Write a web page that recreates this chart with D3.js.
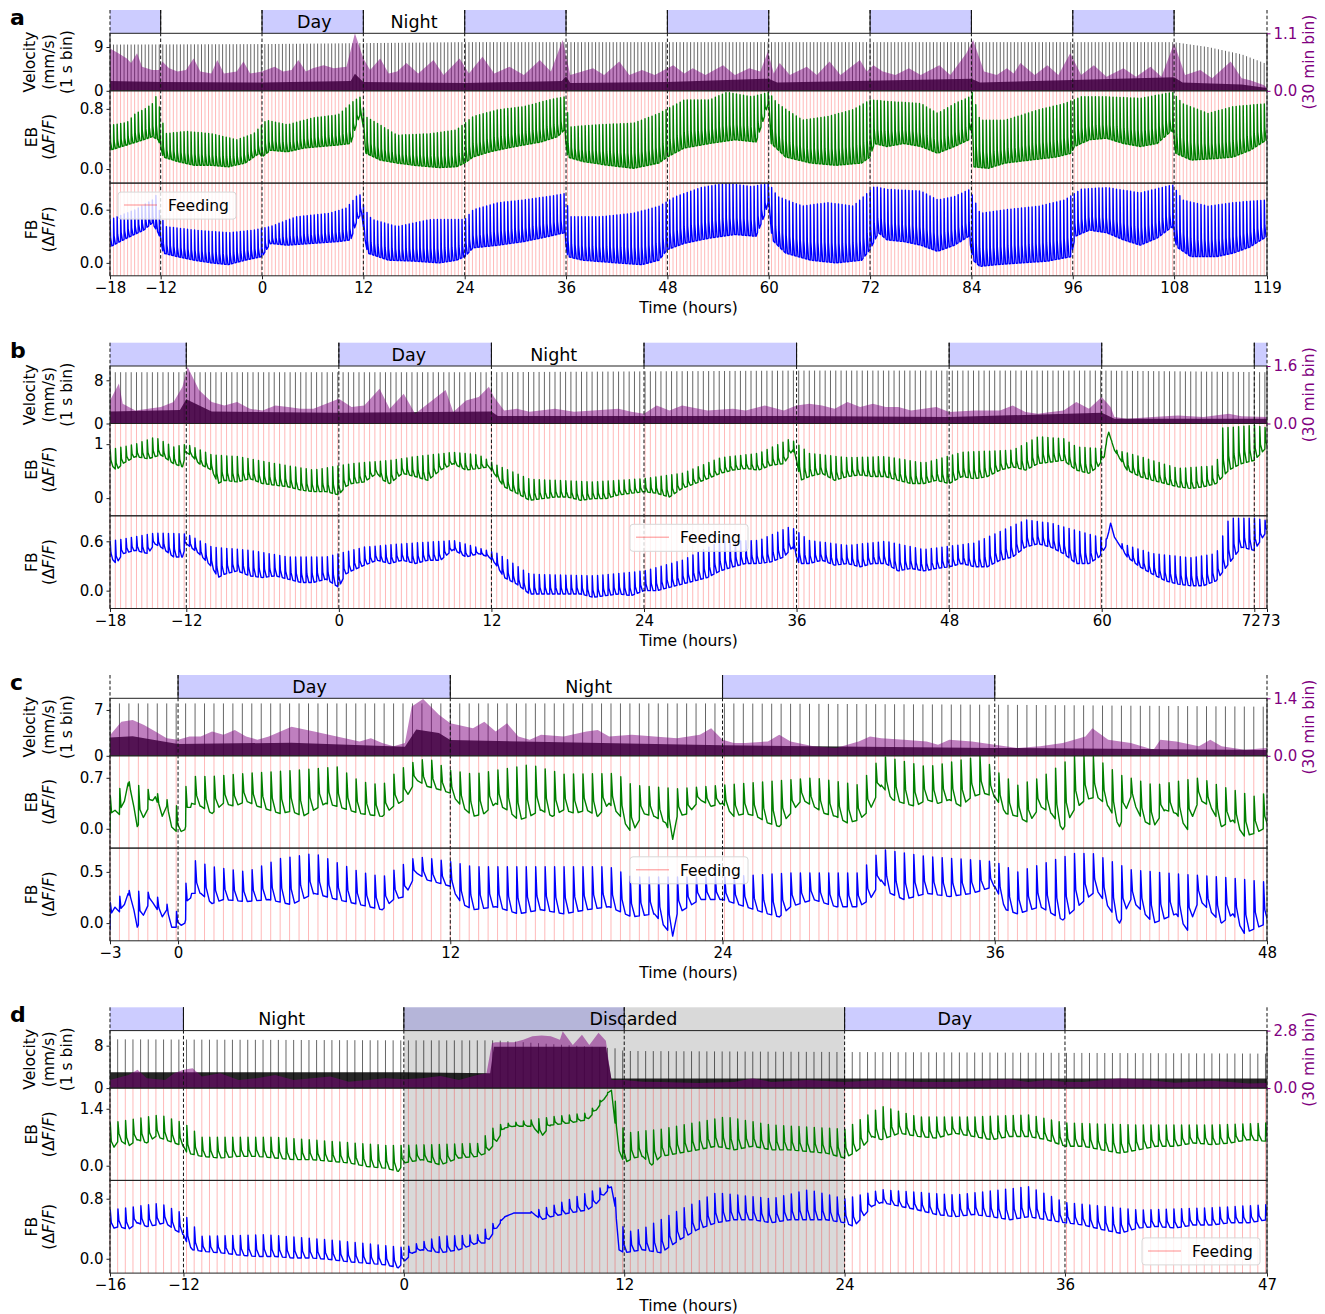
<!DOCTYPE html>
<html><head><meta charset="utf-8">
<script src="https://cdn.jsdelivr.net/npm/d3@7"></script>
<style>
body{margin:0;background:#fff}
svg{display:block}
text{font-family:"DejaVu Sans",sans-serif;fill:#000}
</style>
</head><body>
<svg id="chart" width="1325" height="1314"></svg>
<script>
// ---------------- DATA (hours, values) ----------------
const feedIntervalHours = 25/60;

// Panel a
const xTicksA = [-18,-12,0,12,24,36,48,60,72,84,96,108,119];
const dayA = [[-18,-12],[0,12],[24,36],[48,60],[72,84],[96,108]];
const labelsA = [[6.2,"Day"],[18,"Night"]];
const ebBaseA = [[-18,0.25],[-16,0.32],[-14,0.39],[-13,0.43],[-12.3,0.39],[-12,0.3],[-11.7,0.16],[-10,0.1],[-8,0.05],[-6,0.05],[-4,0.03],[-2,0.08],[-0.3,0.21],[0,0.16],[1,0.25],[3,0.23],[5,0.28],[7,0.3],[9,0.32],[10.5,0.34],[11.2,0.6],[11.7,0.75],[12,0.56],[12.3,0.21],[14,0.12],[16,0.08],[18,0.05],[21,0.02],[23,0.03],[24,0.08],[25,0.16],[27,0.23],[30,0.3],[33,0.36],[35,0.43],[35.8,0.52],[36.2,0.16],[38,0.1],[41,0.05],[44,0.01],[47,0.08],[48,0.16],[50,0.28],[53,0.34],[56,0.39],[58.5,0.36],[59.5,0.7],[60,0.9],[60.3,0.34],[62,0.16],[65,0.08],[68,0.05],[71,0.08],[72,0.16],[72.5,0.34],[74,0.3],[76,0.34],[78,0.3],[80,0.21],[82,0.3],[83.7,0.39],[84,0.6],[84.3,0.03],[86,0.01],[88,0.08],[91,0.12],[94,0.16],[95.8,0.21],[96.2,0.3],[98,0.39],[100,0.41],[102,0.34],[104,0.3],[106,0.34],[107.8,0.52],[108.2,0.21],[110,0.12],[113,0.14],[115,0.16],[117,0.25],[119,0.39]];
const ebTopA = [[-18,0.58],[-16,0.62],[-15,0.74],[-14,0.79],[-13,0.87],[-12.5,0.98],[-12,0.75],[-11.5,0.47],[-9,0.5],[-6,0.47],[-3,0.39],[-1,0.47],[0.5,0.65],[3,0.59],[6,0.68],[9,0.72],[11,0.92],[11.7,0.96],[12.2,0.7],[13,0.65],[16,0.45],[20,0.47],[23,0.52],[25,0.7],[28,0.79],[31,0.83],[34,0.92],[35.8,0.96],[36.5,0.56],[40,0.59],[44,0.61],[47,0.74],[50,0.92],[53,0.92],[55,1.02],[58,0.96],[60,1.02],[61,0.87],[64,0.65],[67,0.7],[70,0.79],[72,0.92],[74,0.9],[78,0.87],[80,0.74],[82,0.87],[83.8,0.96],[84.1,1.02],[85,0.65],[88,0.65],[92,0.79],[95,0.87],[97,0.96],[100,0.96],[104,0.94],[107.8,1.02],[109,0.87],[112,0.74],[115,0.83],[119,0.87]];
const fbBaseA = [[-18,0.18],[-16,0.28],[-14,0.37],[-13,0.45],[-12.3,0.34],[-12,0.26],[-11.7,0.11],[-10,0.07],[-8,0.03],[-6,0.0],[-4,-0.02],[-2,0.03],[0,0.07],[1,0.22],[3,0.2],[6,0.22],[9,0.24],[10.5,0.26],[11.3,0.49],[11.8,0.56],[12.2,0.26],[12.5,0.11],[15,0.03],[18,0.02],[21,0.0],[23,0.03],[24,0.07],[25,0.17],[28,0.2],[31,0.24],[34,0.3],[35.8,0.34],[36.2,0.07],[38,0.03],[42,0.0],[45,-0.02],[47,0.03],[48,0.15],[50,0.22],[53,0.28],[56,0.32],[58.5,0.3],[59.6,0.56],[60,0.71],[60.4,0.26],[62,0.11],[65,0.03],[68,0.0],[71,0.03],[72,0.15],[73,0.34],[74,0.26],[76,0.24],[78,0.2],[80,0.13],[82,0.2],[83.7,0.3],[84.2,0.03],[85,-0.04],[87,-0.02],[90,0.0],[93,0.02],[95.8,0.07],[96.3,0.3],[98,0.37],[100,0.34],[102,0.26],[104,0.2],[106,0.28],[107.8,0.41],[108.3,0.18],[110,0.07],[113,0.07],[115,0.11],[117,0.18],[119,0.3]];
const fbTopA = [[-18,0.49],[-15,0.6],[-13,0.71],[-12.8,0.85],[-12.2,0.6],[-11.5,0.41],[-8,0.37],[-4,0.34],[-1,0.37],[1,0.41],[4,0.52],[8,0.56],[10,0.62],[11.5,0.79],[12.2,0.6],[13,0.49],[16,0.41],[20,0.49],[24,0.49],[25,0.6],[28,0.68],[31,0.71],[34,0.75],[35.8,0.78],[36.5,0.52],[40,0.52],[44,0.56],[47,0.64],[49,0.75],[52,0.85],[55,0.9],[58,0.86],[60,0.9],[61,0.75],[64,0.64],[67,0.68],[70,0.64],[72.5,0.86],[74,0.83],[78,0.81],[80,0.71],[82,0.75],[83.8,0.83],[85,0.56],[88,0.6],[92,0.64],[95,0.71],[97,0.83],[100,0.85],[104,0.79],[107.8,0.88],[109,0.71],[112,0.64],[115,0.68],[119,0.71]];
const velAvgA = [[-18,0.81],[-17,0.72],[-16,0.62],[-15.5,0.53],[-14.8,0.72],[-14.2,0.46],[-13,0.4],[-12.2,0.4],[-11.8,0.56],[-11,0.43],[-10,0.37],[-9,0.4],[-8.1,0.62],[-7.3,0.37],[-6,0.33],[-5.3,0.59],[-4.5,0.33],[-3,0.37],[-2.2,0.56],[-1.4,0.33],[0,0.37],[1.5,0.46],[2.5,0.37],[3.5,0.4],[4.3,0.59],[5.2,0.37],[6,0.43],[7.3,0.49],[8.5,0.43],[10,0.46],[11,1.1],[12,0.62],[12.8,0.4],[14,0.62],[15,0.33],[16,0.37],[17.1,0.53],[18.5,0.33],[20.3,0.59],[21.5,0.3],[23.4,0.62],[24.5,0.33],[26.1,0.65],[27.5,0.33],[29.3,0.46],[31,0.3],[32.9,0.59],[34.2,0.37],[35.6,0.97],[36.5,0.3],[39.2,0.43],[40.5,0.3],[42.3,0.56],[43.5,0.3],[45,0.4],[46.5,0.3],[48.7,0.49],[50,0.33],[51,0.43],[52.5,0.3],[54.6,0.49],[56,0.3],[57.7,0.43],[59,0.37],[59.9,0.75],[60.6,0.33],[61.3,0.53],[62.5,0.3],[64.5,0.46],[65.7,0.3],[67.2,0.56],[68.5,0.3],[70.8,0.59],[71.6,0.37],[72.4,0.49],[73.5,0.37],[75,0.3],[76.6,0.43],[78,0.3],[80.2,0.49],[81.5,0.3],[83.4,0.72],[84.2,0.97],[85.5,0.37],[87,0.3],[88.2,0.43],[89,0.33],[89.8,0.53],[91.5,0.3],[93,0.49],[94.3,0.3],[95.7,0.72],[97,0.3],[98.5,0.49],[100,0.27],[102,0.43],[103.5,0.27],[105.2,0.46],[106.5,0.27],[108,0.91],[109.3,0.3],[111.1,0.4],[112.5,0.24],[114.7,0.56],[116,0.24],[117,0.2],[118.6,0.11],[119,0.06]];
const velDenseA = [[-18,2.0],[-12,1.8],[0,1.7],[10.5,2.0],[11,3.5],[12,1.8],[24,1.6],[35.5,2.0],[36,3.0],[36.5,1.6],[48,1.8],[60,2.5],[61,1.7],[84,2.5],[85,1.7],[108,2.8],[109,1.7],[116,1.3],[119,0.6]];
const velPeakA = [[-18,9.5],[0,9.6],[24,10.0],[48,10.0],[72,10.0],[96,10.0],[108,10.0],[112,9.0],[116,7.5],[119,5.5]];

// Panel b
const xTicksB = [-18,-12,0,12,24,36,48,60,72,73];
const dayB = [[-18,-12],[0,12],[24,36],[48,60],[72,73]];
const labelsB = [[5.5,"Day"],[16.9,"Night"]];
const ebBaseB = [[-18,0.64],[-17.5,0.52],[-17,0.64],[-16,0.77],[-15,0.73],[-14,0.8],[-13,0.64],[-12.3,0.58],[-12,0.85],[-11.5,0.77],[-11,0.64],[-10,0.52],[-9.5,0.27],[-9,0.33],[-8,0.3],[-7,0.36],[-6,0.27],[-5,0.24],[-4,0.21],[-3,0.15],[-2,0.12],[-1,0.12],[0,0.06],[0.5,0.21],[1,0.27],[2,0.3],[3,0.46],[3.5,0.33],[4,0.27],[5,0.46],[6,0.4],[7,0.33],[8,0.52],[9,0.64],[10,0.52],[11,0.55],[11.8,0.58],[12.2,0.46],[13,0.21],[14,0.09],[15,-0.04],[16,-0.01],[17,0.02],[18,0.02],[19,-0.04],[20,-0.01],[21,-0.01],[22,0.06],[23,0.09],[24,0.12],[25,0.09],[26,0.02],[27,0.18],[28,0.27],[29,0.36],[30,0.46],[31,0.52],[32,0.55],[33,0.52],[34,0.61],[35,0.64],[35.7,0.89],[36,0.7],[36.3,0.33],[37,0.4],[38,0.46],[39,0.33],[40,0.4],[41,0.43],[42,0.4],[43,0.4],[44,0.33],[45,0.27],[46,0.27],[47,0.33],[48,0.27],[49,0.4],[50,0.36],[51,0.4],[52,0.52],[53,0.58],[54,0.52],[55,0.64],[56,0.67],[57,0.7],[58,0.52],[59,0.46],[59.7,0.58],[60.2,0.77],[60.5,1.26],[61,0.89],[62,0.52],[63,0.4],[64,0.33],[65,0.27],[66,0.21],[67,0.18],[68,0.21],[69,0.27],[70,0.52],[71,0.64],[72,0.7],[73,0.95]];
const ebTopB = [[-18,0.9],[-16,1.0],[-14.5,1.13],[-13,0.95],[-12,1.0],[-10,0.8],[-8,0.77],[-5,0.64],[-2,0.52],[1,0.64],[4,0.7],[6,0.77],[9,0.85],[11,0.8],[12.5,0.6],[15,0.35],[20,0.3],[24,0.36],[27,0.46],[30,0.75],[33,0.83],[35.5,1.1],[37,0.83],[40,0.75],[43,0.77],[46,0.65],[49,0.85],[53,0.89],[55,1.14],[57,1.1],[58,0.95],[61,0.9],[63,0.77],[66,0.55],[69,0.6],[69.5,1.3],[72,1.35],[73,1.3]];
const fbBaseB = [[-18,0.41],[-17.5,0.33],[-17,0.45],[-16,0.49],[-15,0.45],[-14.5,0.57],[-14,0.53],[-13,0.41],[-12.3,0.41],[-12,0.57],[-11,0.45],[-10,0.29],[-9.5,0.16],[-9,0.2],[-8,0.24],[-7,0.18],[-6,0.16],[-5,0.18],[-4,0.14],[-3,0.1],[-2,0.1],[-1,0.14],[0,0.04],[0.5,0.2],[1,0.24],[2,0.31],[3,0.37],[4,0.33],[5,0.37],[6,0.33],[7,0.37],[8,0.37],[9,0.5],[10,0.41],[11,0.45],[11.8,0.41],[12.3,0.33],[13,0.16],[14,0.08],[15,-0.04],[17,-0.04],[19,-0.04],[20,-0.08],[21,-0.06],[22,-0.04],[23,-0.06],[24,0.0],[25,0.0],[26,0.04],[27,0.08],[28,0.12],[29,0.16],[30,0.24],[31,0.29],[32,0.33],[33,0.33],[34,0.35],[35,0.41],[35.7,0.53],[36.2,0.33],[37,0.33],[38,0.37],[39,0.31],[40,0.33],[41,0.29],[42,0.33],[43,0.33],[44,0.24],[45,0.27],[46,0.24],[47,0.27],[48,0.29],[49,0.33],[50,0.29],[51,0.29],[52,0.37],[53,0.41],[54,0.53],[55,0.57],[56,0.53],[57,0.45],[58,0.33],[59,0.33],[59.8,0.41],[60.3,0.53],[60.7,0.82],[61,0.65],[62,0.41],[63,0.29],[64,0.2],[65,0.12],[66,0.08],[67,0.06],[68,0.06],[69,0.12],[70,0.33],[71,0.53],[72,0.49],[73,0.73]];
const fbTopB = [[-18,0.6],[-14.5,0.7],[-12,0.69],[-10,0.53],[-7,0.49],[-4,0.41],[-1,0.41],[2,0.53],[5,0.57],[9,0.61],[12.5,0.45],[15,0.2],[20,0.18],[24,0.24],[27,0.37],[30,0.6],[33,0.61],[35.5,0.78],[37,0.61],[40,0.55],[43,0.6],[46,0.5],[50,0.58],[54,0.86],[56,0.82],[58,0.73],[61,0.6],[64,0.45],[67,0.4],[69,0.45],[70,0.88],[72,0.88],[73,0.85]];
const velAvgB = [[-18,0.64],[-17.3,1.11],[-17,0.55],[-16,0.36],[-15,0.41],[-14,0.46],[-13,0.6],[-12.3,1.02],[-11.9,1.58],[-11,0.93],[-10,0.6],[-9,0.5],[-8,0.6],[-7,0.41],[-6,0.36],[-5,0.5],[-4,0.46],[-3,0.41],[-2,0.41],[-1,0.55],[0,0.69],[1,0.46],[2,0.5],[3.2,0.97],[4,0.41],[5.1,0.83],[6,0.27],[7,0.55],[8.4,0.93],[9,0.32],[10,0.64],[11,0.74],[11.8,1.02],[12.2,0.74],[13,0.36],[14,0.41],[15,0.33],[17,0.41],[18.5,0.33],[20,0.36],[22,0.41],[23,0.33],[24,0.27],[25,0.5],[26,0.36],[27,0.5],[29,0.36],[31,0.41],[32,0.36],[33.5,0.5],[35,0.36],[36,0.5],[37,0.55],[38,0.5],[39,0.41],[40,0.6],[41,0.46],[42,0.55],[43,0.46],[44,0.46],[45,0.36],[46,0.41],[47,0.46],[48,0.32],[50,0.36],[52,0.36],[53,0.5],[54,0.32],[55,0.27],[56,0.32],[57,0.36],[58,0.6],[59,0.41],[60,0.74],[60.7,0.46],[61,0.18],[62,0.13],[64,0.18],[66,0.22],[68,0.18],[70,0.27],[71,0.2],[73,0.18]];
const velDenseB = [[-18,2.2],[-12.5,2.5],[-12,4.5],[-10,2.2],[0,2.0],[12,2.2],[12.5,1.4],[36,1.4],[48,1.2],[60,2.0],[61,0.9],[73,0.9]];
const velPeakB = [[-18,9.5],[12,9.5],[36,9.8],[60,9.8],[73,9.5]];

// Panel c
const xTicksC = [-3,0,12,24,36,48];
const dayC = [[0,12],[24,36]];
const labelsC = [[5.8,"Day"],[18.1,"Night"]];
const ebBaseC = [[-3,-0.06],[-2.8,0.26],[-2.5,0.17],[-2.2,0.63],[-2,0.4],[-1.8,0.03],[-1.5,0.17],[-1.2,0.35],[-1,0.44],[-0.7,0.17],[-0.5,0.31],[-0.3,0.03],[0,-0.06],[0.3,-0.01],[0.6,0.35],[1,0.31],[1.5,0.21],[2,0.35],[2.5,0.31],[3,0.38],[3.5,0.31],[4,0.26],[4.5,0.21],[5,0.24],[5.5,0.17],[6,0.26],[6.5,0.35],[7,0.31],[7.5,0.26],[8,0.21],[8.5,0.19],[9,0.17],[9.5,0.31],[10,0.4],[10.5,0.67],[11,0.58],[11.5,0.54],[12,0.49],[12.5,0.31],[13,0.17],[13.5,0.21],[14,0.35],[14.5,0.26],[15,0.12],[15.5,0.17],[16,0.26],[16.5,0.17],[17,0.26],[17.5,0.21],[18,0.26],[18.5,0.17],[19,0.35],[19.5,0.17],[20,-0.06],[20.5,0.21],[21,0.17],[21.5,0.08],[21.8,-0.15],[22,0.17],[22.5,0.21],[23,0.4],[23.5,0.31],[24,0.35],[24.5,0.17],[25,0.21],[25.5,0.17],[26,0.08],[26.5,0.03],[27,0.21],[27.5,0.4],[28,0.31],[28.5,0.21],[29,0.17],[29.5,0.08],[30,0.12],[30.5,0.26],[31,0.6],[31.5,0.4],[32,0.35],[32.5,0.31],[33,0.4],[33.5,0.35],[34,0.4],[34.5,0.31],[35,0.44],[35.5,0.49],[36,0.44],[36.5,0.21],[37,0.17],[37.5,0.08],[38,0.31],[38.5,0.21],[39,-0.01],[39.5,0.26],[40,0.4],[40.5,0.44],[41,0.31],[41.5,0.03],[42,0.44],[42.5,0.12],[43,0.03],[43.5,0.26],[44,0.21],[44.5,-0.01],[45,0.4],[45.5,0.31],[46,0.03],[46.5,0.12],[47,-0.1],[47.5,-0.06],[48,0.03]];
const ebTopC = [[-3,0.45],[-2.2,0.65],[-1,0.5],[0,0.3],[0.5,0.72],[1.5,0.72],[3,0.76],[5,0.8],[7,0.85],[8,0.65],[9,0.6],[9.5,0.75],[10.2,0.9],[11,0.97],[12,0.8],[13,0.75],[15.5,0.88],[17,0.75],[19.3,0.76],[20,0.6],[22,0.55],[24,0.6],[26,0.65],[28,0.7],[30,0.6],[31,1.0],[33,0.85],[35.4,1.0],[36,0.8],[37,0.6],[38,0.7],[39.5,1.0],[40.3,1.0],[41.5,0.74],[43,0.6],[44,0.65],[45,0.7],[46,0.58],[47.5,0.44],[48,0.5]];
const fbBaseC = [[-3,-0.07],[-2.8,0.16],[-2.5,0.09],[-2.2,0.29],[-2,0.19],[-1.8,-0.04],[-1.5,0.09],[-1.2,0.23],[-1,0.16],[-0.7,0.06],[-0.5,0.13],[-0.3,-0.04],[0,-0.04],[0.3,0.0],[0.6,0.29],[1,0.29],[1.5,0.19],[2,0.23],[3,0.21],[4,0.23],[5,0.18],[6,0.29],[7,0.23],[8,0.18],[9,0.13],[9.5,0.23],[10,0.26],[10.5,0.49],[11,0.42],[11.5,0.39],[12,0.36],[12.5,0.19],[13,0.13],[14,0.16],[15,0.09],[16,0.13],[17,0.09],[18,0.13],[19,0.16],[20,0.06],[21,0.09],[21.8,-0.13],[22,0.09],[23,0.23],[24,0.23],[25,0.16],[26,0.09],[26.5,0.06],[27,0.16],[28,0.23],[29,0.16],[30,0.16],[30.5,0.23],[31,0.42],[31.4,0.29],[32,0.23],[33,0.29],[34,0.26],[35,0.29],[36,0.36],[36.5,0.13],[37,0.09],[38,0.16],[39,0.03],[40,0.23],[40.5,0.32],[41,0.16],[41.5,0.0],[42,0.23],[43,0.0],[44,0.09],[44.5,-0.07],[45,0.23],[46,0.0],[46.5,0.09],[47,-0.1],[48,0.0]];
const fbTopC = [[-3,0.2],[-2.2,0.32],[-1.2,0.3],[0,0.1],[0.6,0.62],[1.5,0.55],[3,0.5],[4.5,0.63],[6,0.68],[8,0.5],[9,0.45],[10.5,0.65],[12,0.6],[13,0.55],[16,0.55],[19,0.55],[20,0.45],[24,0.45],[27,0.49],[30,0.49],[31,0.72],[33,0.65],[36,0.6],[37,0.5],[39.5,0.68],[40.3,0.68],[42,0.52],[44,0.48],[46,0.45],[48,0.4]];
const velAvgC = [[-3,0.5],[-2.5,0.83],[-2,0.87],[-1.5,0.75],[-1,0.59],[-0.5,0.43],[0,0.39],[0.5,0.47],[1,0.47],[1.5,0.59],[2,0.51],[2.5,0.63],[3,0.47],[3.5,0.39],[4,0.47],[5,0.71],[6,0.59],[7,0.47],[8,0.35],[8.5,0.43],[9,0.31],[9.5,0.23],[10,0.31],[10.3,1.2],[10.8,1.38],[11.5,1.0],[12,0.79],[13,0.67],[13.5,0.83],[14,0.59],[14.5,0.79],[15,0.47],[15.5,0.39],[16,0.51],[17,0.47],[18,0.59],[18.5,0.63],[19,0.47],[20,0.51],[21,0.47],[22,0.43],[23,0.51],[23.5,0.67],[24,0.39],[24.5,0.31],[25,0.31],[26,0.35],[26.5,0.51],[27,0.35],[28,0.23],[29,0.19],[30,0.35],[30.5,0.47],[31,0.43],[32,0.39],[33,0.35],[33.5,0.27],[34,0.39],[35,0.35],[36,0.27],[37,0.19],[38,0.23],[39,0.31],[40,0.47],[40.3,0.67],[41,0.39],[42,0.31],[43,0.15],[43.3,0.39],[44,0.35],[45,0.23],[45.5,0.39],[46,0.23],[47,0.15],[48,0.19]];
const velDenseC = [[-3,2.8],[-2,3.0],[0,1.8],[5,2.0],[10,1.4],[10.5,4.0],[11.5,3.5],[12,2.4],[24,1.6],[36,1.2],[48,0.9]];
const velPeakC = [[-3,8.0],[12,8.0],[24,8.0],[36,7.8],[48,7.5]];

// Panel d
const xTicksD = [-16,-12,0,12,24,36,47];
const dayD = [[-16,-12],[0,12],[24,36]];
const labelsD = [[-6.65,"Night"],[12.5,"Discarded"],[30,"Day"]];
const discardedD = [0,24];
const ebBaseD = [[-16,0.31],[-15.5,0.64],[-15,0.48],[-14.5,0.64],[-14,0.56],[-13.5,0.72],[-13,0.64],[-12.5,0.56],[-12,0.48],[-11.8,0.31],[-11,0.23],[-10,0.19],[-9,0.23],[-8,0.23],[-7,0.19],[-6,0.15],[-5,0.15],[-4,0.11],[-3,0.07],[-2,-0.02],[-1,-0.06],[-0.3,-0.14],[0,0.07],[1,0.15],[2,0.02],[3,0.19],[4,0.23],[4.5,0.31],[5,0.56],[5.5,0.93],[6,0.97],[7,0.97],[7.5,0.72],[8,1.0],[9,1.05],[10,1.13],[10.5,1.38],[11,1.7],[11.3,1.87],[11.5,1.05],[11.7,0.39],[12,0.07],[12.5,0.19],[13,0.23],[13.5,0.02],[14,0.23],[15,0.31],[16,0.39],[17,0.48],[18,0.39],[19,0.48],[20,0.39],[21,0.39],[22,0.35],[23,0.31],[24,0.19],[24.5,0.31],[25,0.48],[25.5,0.72],[26,0.64],[27,0.8],[28,0.72],[29,0.68],[30,0.8],[31,0.72],[32,0.64],[33,0.72],[34,0.72],[35,0.64],[36,0.48],[37,0.48],[38,0.39],[39,0.31],[40,0.39],[41,0.48],[42,0.48],[43,0.56],[44,0.52],[45,0.56],[46,0.64],[47,0.6]];
const ebTopD = [[-16,1.05],[-13.3,1.25],[-12,1.05],[-11,0.7],[-7,0.7],[-4,0.6],[-1,0.5],[0,0.5],[4,0.55],[5,1.0],[8,1.2],[10,1.3],[11.3,1.9],[12,0.8],[14,0.9],[17.5,1.2],[20,1.0],[24,0.9],[26,1.46],[28,1.2],[31,1.2],[34,1.25],[36,1.05],[40,1.0],[44,1.0],[47,1.05]];
const fbBaseD = [[-16,0.39],[-15.5,0.43],[-15,0.39],[-14.5,0.48],[-14,0.43],[-13.5,0.45],[-13,0.48],[-12.5,0.39],[-12,0.32],[-11.8,0.21],[-11.5,0.12],[-11,0.1],[-10,0.08],[-9,0.05],[-8,0.03],[-7,0.03],[-6,0.01],[-5,0.01],[-4,-0.01],[-3,-0.04],[-2,-0.06],[-1,-0.08],[-0.3,-0.12],[0,-0.04],[0.5,0.08],[1,0.12],[2,0.08],[3,0.12],[4,0.21],[4.5,0.21],[5,0.39],[5.5,0.56],[6,0.61],[7,0.61],[7.5,0.52],[8,0.56],[9,0.61],[10,0.65],[10.5,0.74],[11,0.88],[11.3,0.96],[11.5,0.7],[11.7,0.12],[12,0.08],[13,0.12],[14,0.08],[15,0.25],[16,0.39],[17,0.48],[18,0.52],[19,0.52],[20,0.48],[21,0.52],[22,0.52],[23,0.52],[24,0.48],[24.5,0.43],[25,0.56],[25.5,0.7],[26,0.75],[27,0.7],[28,0.65],[29,0.59],[30,0.56],[31,0.59],[32,0.56],[33,0.52],[34,0.56],[35,0.52],[36,0.48],[37,0.45],[38,0.39],[39,0.34],[40,0.41],[41,0.43],[42,0.41],[43,0.45],[44,0.45],[45,0.48],[46,0.48],[47,0.52]];
const fbTopD = [[-16,0.65],[-13.3,0.74],[-12,0.6],[-11,0.3],[-7.5,0.32],[-4,0.25],[0,0.15],[2,0.3],[4,0.32],[5,0.5],[8,0.7],[11.3,1.0],[12,0.35],[13,0.4],[15,0.65],[17,0.88],[20,0.8],[22,0.92],[24,0.8],[26,0.92],[30,0.85],[34,0.96],[36,0.75],[40,0.65],[44,0.68],[47,0.72]];
const velAvgD = [[-16,0.39],[-15,0.64],[-14.5,0.89],[-14,0.48],[-13,0.39],[-12.5,0.72],[-12,0.89],[-11.5,0.97],[-11,0.56],[-10,0.72],[-9,0.39],[-8,0.48],[-7,0.64],[-6,0.39],[-5,0.48],[-4,0.56],[-3,0.31],[-2,0.39],[-1,0.48],[0,0.43],[1,0.48],[2,0.59],[3,0.39],[4,0.64],[4.5,0.72],[4.8,2.2],[5,2.23],[6,2.23],[6.5,2.36],[7,2.52],[7.5,2.56],[8,2.52],[8.5,2.36],[8.65,2.77],[9.2,2.1],[9.7,2.6],[10.1,2.1],[10.6,2.7],[11,2.3],[11.3,0.39],[12,0.39],[13,0.31],[14,0.3],[16,0.25],[18,0.3],[19,0.48],[20,0.3],[22,0.39],[24,0.3],[26,0.39],[28,0.3],[30,0.3],[33,0.43],[34,0.3],[35,0.39],[36,0.3],[37,0.3],[39,0.48],[40,0.43],[42,0.26],[44,0.36],[45,0.3],[46,0.23],[47,0.25]];
const velDenseD = [[-16,3.0],[0,3.0],[4.7,2.8],[4.9,7.8],[11,7.8],[11.3,1.8],[24,1.8],[47,1.8]];
const velPeakD = [[-16,9.2],[0,9.0],[5,9.0],[11.5,7.5],[12,7.0],[24,6.8],[47,6.5]];

// ---------------- LAYOUT / STYLE ----------------
const X0 = 110, X1 = 1267;
const STRIP_H = 23.3, VEL_H = 57.5, EB_H = 92.3, FB_H = 92.7;
const panels = [
  {letter:"a", top:10, xDomain:[-18,119], xTicks:xTicksA, day:dayA, labels:labelsA,
   velDomain:[0,11.82], rightDomain:[0,1.1], ebDomain:[-0.187,1.04], fbDomain:[-0.146,0.9],
   velTicks:[0,9], rightTicks:[0,1.1], ebTicks:[0,0.8], fbTicks:[0,0.6], ebFmt:".1f",
   ebBase:ebBaseA, ebTop:ebTopA, fbBase:fbBaseA, fbTop:fbTopA, velAvg:velAvgA, velDense:velDenseA, velPeak:velPeakA,
   legend:{x:118, dy:9}},
  {letter:"b", top:342.7, xDomain:[-18,73], xTicks:xTicksB, day:dayB, labels:labelsB,
   velDomain:[0,10.65], rightDomain:[0,1.6], ebDomain:[-0.328,1.383], fbDomain:[-0.217,0.91],
   velTicks:[0,8], rightTicks:[0,1.6], ebTicks:[0,1], fbTicks:[0,0.6], ebFmt:"d",
   ebBase:ebBaseB, ebTop:ebTopB, fbBase:fbBaseB, fbTop:fbTopB, velAvg:velAvgB, velDense:velDenseB, velPeak:velPeakB,
   legend:{x:630, dy:8.5}, tickNudge:{72:-3.5, 73:3.5}},
  {letter:"c", top:675, xDomain:[-3,48], xTicks:xTicksC, day:dayC, labels:labelsC,
   velDomain:[0,8.78], rightDomain:[0,1.4], ebDomain:[-0.265,1.002], fbDomain:[-0.173,0.732],
   velTicks:[0,7], rightTicks:[0,1.4], ebTicks:[0,0.7], fbTicks:[0,0.5], ebFmt:".1f",
   ebBase:ebBaseC, ebTop:ebTopC, fbBase:fbBaseC, fbTop:fbTopC, velAvg:velAvgC, velDense:velDenseC, velPeak:velPeakC,
   legend:{x:630, dy:8.7}},
  {letter:"d", top:1007.3, xDomain:[-16,47], xTicks:xTicksD, day:dayD, labels:labelsD, discarded:discardedD,
   velDomain:[0,10.84], rightDomain:[0,2.8], ebDomain:[-0.361,1.908], fbDomain:[-0.191,1.044],
   velTicks:[0,8], rightTicks:[0,2.8], ebTicks:[0,1.4], fbTicks:[0,0.8], ebFmt:".1f",
   ebBase:ebBaseD, ebTop:ebTopD, fbBase:fbBaseD, fbTop:fbTopD, velAvg:velAvgD, velDense:velDenseD, velPeak:velPeakD,
   legend:{x:1142, dy:57.5}}
];

const svg = d3.select("#chart");
const defs = svg.append("defs");
const bis = d3.bisector(d => d[0]).right;
function interp(kf, t){
  if (t <= kf[0][0]) return kf[0][1];
  if (t >= kf[kf.length-1][0]) return kf[kf.length-1][1];
  const i = bis(kf, t), a = kf[i-1], b = kf[i];
  return a[1] + (b[1]-a[1])*(t-a[0])/(b[0]-a[0]);
}
// trace: baseline keyframes with a transient at each feeding
function tracePoints(baseKF, topKF, feeds){
  const R = 0.015, D1 = 0.07, D2 = 0.22;
  const pts = [];
  feeds.forEach(t => {
    const b = interp(baseKF, t), tp = Math.max(interp(topKF, t), b);
    pts.push([t, b], [t+R, tp], [t+D1, interp(baseKF, t+D1) + (tp-b)*0.33], [t+D2, interp(baseKF, t+D2)]);
  });
  baseKF.forEach(p => { if (!feeds.some(f => p[0] >= f && p[0] <= f + D2)) pts.push(p); });
  pts.sort((a,b) => a[0]-b[0]);
  return pts;
}
const minus = s => String(s).replace("-", "\u2212");

panels.forEach((p, pi) => {
  const sTop = p.top, vTop = sTop + STRIP_H, vBot = vTop + VEL_H, eBot = vBot + EB_H, fBot = eBot + FB_H;
  const x = d3.scaleLinear().domain(p.xDomain).range([X0, X1]);
  const yV = d3.scaleLinear().domain(p.velDomain).range([vBot, vTop]);
  const yR = d3.scaleLinear().domain(p.rightDomain).range([vBot, vTop]);
  const yE = d3.scaleLinear().domain(p.ebDomain).range([eBot, vBot]);
  const yF = d3.scaleLinear().domain(p.fbDomain).range([fBot, eBot]);
  const feeds = d3.range(p.xDomain[0], p.xDomain[1], feedIntervalHours);
  const g = svg.append("g");

  const clip = (id, y0, y1) => {
    defs.append("clipPath").attr("id", id).append("rect").attr("x", X0).attr("y", y0).attr("width", X1-X0).attr("height", y1-y0);
    return "url(#" + id + ")";
  };
  const cV = clip("cv"+pi, vTop, vBot), cE = clip("ce"+pi, vBot, eBot), cF = clip("cf"+pi, eBot, fBot);

  // day strip
  g.append("g").selectAll("rect").data(p.day).join("rect")
    .attr("x", d => x(d[0])).attr("width", d => x(d[1]) - x(d[0]))
    .attr("y", sTop).attr("height", STRIP_H)
    .attr("fill", "rgb(0,0,255)").attr("fill-opacity", 0.2);

  // discarded span
  if (p.discarded) {
    g.append("rect").attr("x", x(p.discarded[0])).attr("width", x(p.discarded[1]) - x(p.discarded[0]))
      .attr("y", sTop).attr("height", fBot - sTop).attr("fill", "#808080").attr("fill-opacity", 0.3);
  }

  // feeding lines
  [[vBot, eBot],[eBot, fBot]].forEach(([a, b]) => {
    g.append("path")
      .attr("d", feeds.map(t => `M${x(t)},${a}V${b}`).join(""))
      .attr("stroke", "red").attr("stroke-opacity", 0.28).attr("stroke-width", 1).attr("fill", "none");
  });

  // EB and FB traces
  const lineE = d3.line().x(d => x(d[0])).y(d => yE(d[1]));
  const lineF = d3.line().x(d => x(d[0])).y(d => yF(d[1]));
  g.append("path").attr("clip-path", cE).attr("d", lineE(tracePoints(p.ebBase, p.ebTop, feeds)))
    .attr("fill", "none").attr("stroke", "green").attr("stroke-width", 1.4).attr("stroke-linejoin", "round");
  g.append("path").attr("clip-path", cF).attr("d", lineF(tracePoints(p.fbBase, p.fbTop, feeds)))
    .attr("fill", "none").attr("stroke", "blue").attr("stroke-width", 1.4).attr("stroke-linejoin", "round");

  // velocity: dense 1 s trace, feeding bouts, 30 min average
  const gv = g.append("g").attr("clip-path", cV);
  gv.append("path")
    .attr("d", d3.area().x(d => x(d[0])).y0(vBot).y1(d => yV(d[1]))(p.velDense))
    .attr("fill", "#000").attr("fill-opacity", 0.85);
  gv.append("path")
    .attr("d", feeds.map(t => `M${x(t)},${vBot}V${yV(interp(p.velPeak, t))}`).join(""))
    .attr("stroke", "#000").attr("stroke-opacity", 0.6).attr("stroke-width", 1);
  gv.append("path")
    .attr("d", d3.area().x(d => x(d[0])).y0(vBot).y1(d => yR(d[1]))(p.velAvg))
    .attr("fill", "purple").attr("fill-opacity", 0.5);

  // dashed boundaries
  const bounds = [p.xDomain[0]].concat(d3.range(Math.ceil(p.xDomain[0]/12)*12, p.xDomain[1]+0.001, 12).filter(v => v > p.xDomain[0])).concat(p.xDomain[1] % 12 === 0 ? [] : [p.xDomain[1]]);
  g.append("path").attr("d", bounds.map(t => `M${x(t)},${sTop}V${fBot}`).join(""))
    .attr("stroke", "#111").attr("stroke-width", 1).attr("stroke-dasharray", "3.5,2.2").attr("fill", "none");
  const inner = bounds.filter(t => t > p.xDomain[0] && t < p.xDomain[1]);
  g.append("path").attr("d", inner.map(t => `M${x(t)},${sTop}V${vTop}`).join(""))
    .attr("stroke", "#111").attr("stroke-width", 1.1).attr("fill", "none");

  // spines
  [[vTop, vBot],[vBot, eBot],[eBot, fBot]].forEach(([a, b]) => {
    g.append("rect").attr("x", X0).attr("y", a).attr("width", X1-X0).attr("height", b-a)
      .attr("fill", "none").attr("stroke", "#222").attr("stroke-width", 1);
  });

  // axes
  const styleAx = (sel, color) => {
    sel.select(".domain").remove();
    sel.selectAll("text").attr("font-size", 15).attr("font-family", "DejaVu Sans, sans-serif").style("fill", color || "#000");
    sel.selectAll("line").attr("stroke", color || "#222");
  };
  const axL = (scale, vals, fmt) => {
    const a = g.append("g").attr("transform", `translate(${X0},0)`)
      .call(d3.axisLeft(scale).tickValues(vals).tickFormat(d3.format(fmt)).tickSize(3.5).tickPadding(3));
    styleAx(a);
  };
  axL(yV, p.velTicks, "d");
  axL(yE, p.ebTicks, p.ebFmt);
  axL(yF, p.fbTicks, ".1f");
  const ar = g.append("g").attr("transform", `translate(${X1},0)`)
    .call(d3.axisRight(yR).tickValues(p.rightTicks).tickFormat(d3.format(".1f")).tickSize(3.5).tickPadding(3));
  styleAx(ar, "purple");
  const ab = g.append("g").attr("transform", `translate(0,${fBot})`)
    .call(d3.axisBottom(x).tickValues(p.xTicks).tickFormat(d => minus(d)).tickSize(3.5).tickPadding(3));
  styleAx(ab);
  if (p.tickNudge) ab.selectAll(".tick text").attr("dx", d => p.tickNudge[d] || 0);

  // axis titles
  const rot = (txt, cx, cy, color) => g.append("text").attr("transform", `translate(${cx},${cy}) rotate(-90)`)
    .attr("text-anchor", "middle").attr("dominant-baseline", "central").attr("font-size", 15.5)
    .style("fill", color || "#000").text(txt);
  const vc = (vTop + vBot) / 2;
  rot("Velocity", 30, vc); rot("(mm/s)", 49, vc); rot("(1 s bin)", 66.5, vc);
  const dfLabel = (name, cy) => {
    rot(name, 32, cy);
    const t = g.append("text").attr("transform", `translate(49,${cy}) rotate(-90)`)
      .attr("text-anchor", "middle").attr("dominant-baseline", "central").attr("font-size", 15.5);
    t.append("tspan").text("(\u0394");
    t.append("tspan").attr("font-style", "italic").text("F");
    t.append("tspan").text("/");
    t.append("tspan").attr("font-style", "italic").text("F");
    t.append("tspan").text(")");
  };
  dfLabel("EB", (vBot + eBot) / 2);
  dfLabel("FB", (eBot + fBot) / 2);
  rot("(30 min bin)", 1309, vc, "purple");
  g.append("text").attr("x", (X0 + X1) / 2).attr("y", fBot + 37.5).attr("text-anchor", "middle")
    .attr("font-size", 15.5).text("Time (hours)");
  g.append("text").attr("x", 10).attr("y", sTop + 15).attr("font-size", 22).attr("font-weight", "bold").text(p.letter);

  // strip labels
  g.append("g").selectAll("text").data(p.labels).join("text")
    .attr("x", d => x(d[0])).attr("y", sTop + STRIP_H/2 + 6.3).attr("text-anchor", "middle")
    .attr("font-size", 17.5).text(d => d[1]);

  // legend
  const ly = eBot + p.legend.dy, lx = p.legend.x;
  g.append("rect").attr("x", lx).attr("y", ly).attr("width", 118).attr("height", 27).attr("rx", 3)
    .attr("fill", "#fff").attr("fill-opacity", 0.8).attr("stroke", "#d8d8d8").attr("stroke-width", 1);
  g.append("line").attr("x1", lx + 6).attr("x2", lx + 39).attr("y1", ly + 13).attr("y2", ly + 13)
    .attr("stroke", "red").attr("stroke-opacity", 0.3).attr("stroke-width", 1.5);
  g.append("text").attr("x", lx + 50).attr("y", ly + 19).attr("font-size", 15.5).text("Feeding");
});
</script>
</body></html>
